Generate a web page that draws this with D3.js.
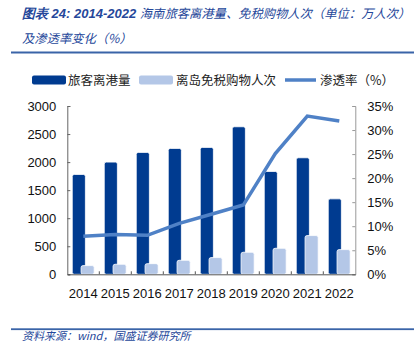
<!DOCTYPE html>
<html><head><meta charset="utf-8">
<script src="https://cdn.jsdelivr.net/npm/d3@7"></script>
<style>
html,body{margin:0;padding:0;background:#fff;}
svg{display:block;}
</style></head>
<body>
<svg id="c" width="416" height="343"></svg>
<script>
const years = ["2014","2015","2016","2017","2018","2019","2020","2021","2022"];
const departures = [1780, 2000, 2173, 2244, 2262, 2630, 1833, 2077, 1345];
const dutyFreeShoppers = [155, 179, 190, 250, 298, 393, 464, 690, 440];
const penetration = [7.9, 8.3, 8.1, 10.6, 12.5, 14.4, 25.1, 32.9, 31.9];
const leftTicks = [0, 500, 1000, 1500, 2000, 2500, 3000];
const rightTicks = [0, 5, 10, 15, 20, 25, 30, 35];
const seriesNames = ["旅客离港量", "离岛免税购物人次", "渗透率（%）"];

(function () {
const svg = d3.select("#c");
const cjk = "'Noto Sans CJK SC','Noto Sans',sans-serif";
const num = "'Liberation Sans',Arial,sans-serif";
const titleColor = "#25479a";
const ruleColor = "#3a64a8";
const dark = "#003b90";
const light = "#b4c7e7";
const lineColor = "#4f81c6";

// Title
const t1 = svg.append("text").attr("x", 22).attr("y", 18).attr("fill", titleColor)
  .attr("font-style", "italic").attr("font-size", 12.3).attr("font-family", cjk);
t1.append("tspan").attr("font-weight", "bold").attr("font-family", num).attr("font-size", 13).text("图表 24: 2014-2022 ");
t1.append("tspan").text("海南旅客离港量、免税购物人次（单位：万人次）");
svg.append("text").attr("x", 22).attr("y", 43).attr("fill", titleColor)
  .attr("font-style", "italic").attr("font-size", 12.3).attr("font-family", cjk)
  .text("及渗透率变化（%）");
svg.append("rect").attr("x", 11).attr("y", 51.5).attr("width", 403).attr("height", 2).attr("fill", ruleColor);

// Footer
svg.append("rect").attr("x", 11).attr("y", 328.3).attr("width", 403).attr("height", 1.8).attr("fill", ruleColor);
svg.append("text").attr("x", 22).attr("y", 340).attr("fill", titleColor)
  .attr("font-style", "italic").attr("font-size", 11).attr("font-family", cjk)
  .text("资料来源：wind，国盛证券研究所");

// Scales
const pLeft = 67.3, pRight = 355.3, pTop = 106, pBottom = 274.3;
const x = d3.scaleBand().domain(years).range([pLeft, pRight]).padding(0);
const yL = d3.scaleLinear().domain([0, 3000]).range([pBottom, pTop]);
const yR = d3.scaleLinear().domain([0, 35]).range([pBottom, pTop]);
const bw = x.bandwidth();
const barW = bw * 0.41;
const darkOff = bw * 0.155;
const lightOff = bw * 0.43;

// Bars
const g = svg.append("g");
g.selectAll("rect.d").data(years).join("rect").attr("class", "d")
  .attr("x", d => x(d) + darkOff).attr("width", barW)
  .attr("y", (d, i) => yL(departures[i])).attr("height", (d, i) => pBottom - yL(departures[i]))
  .attr("rx", 2).attr("fill", dark).attr("stroke", "#fff").attr("stroke-width", 0.8);
g.selectAll("rect.l").data(years).join("rect").attr("class", "l")
  .attr("x", d => x(d) + lightOff).attr("width", barW)
  .attr("y", (d, i) => yL(dutyFreeShoppers[i])).attr("height", (d, i) => pBottom - yL(dutyFreeShoppers[i]))
  .attr("rx", 2).attr("fill", light).attr("stroke", "#fff").attr("stroke-width", 0.8);

// Line
const line = d3.line().x((d, i) => x(years[i]) + bw / 2).y(d => yR(d));
svg.append("path").datum(penetration).attr("d", line).attr("fill", "none")
  .attr("stroke", lineColor).attr("stroke-width", 3.5).attr("stroke-linejoin", "miter");

// Axes
const axL = svg.append("g").attr("transform", `translate(${pLeft},0)`)
  .call(d3.axisLeft(yL).tickValues(leftTicks).tickFormat(d3.format("d")).tickSizeInner(-3).tickSizeOuter(-3).tickPadding(11));
axL.select(".domain").attr("stroke", "#666");
axL.selectAll(".tick line").attr("stroke", "#666");
axL.selectAll("text").attr("font-family", num).attr("font-size", 13).attr("fill", "#111");

const axR = svg.append("g").attr("transform", `translate(${pRight},0)`)
  .call(d3.axisRight(yR).tickValues(rightTicks).tickFormat(d => d + "%").tickSizeInner(-3).tickSizeOuter(-3).tickPadding(12));
axR.select(".domain").attr("stroke", "#999");
axR.selectAll(".tick line").attr("stroke", "#999");
axR.selectAll("text").attr("font-family", num).attr("font-size", 13).attr("fill", "#111");

const axB = svg.append("g").attr("transform", `translate(0,${pBottom})`)
  .call(d3.axisBottom(x).tickSize(0).tickPadding(14));
axB.select(".domain").attr("stroke", "#555");
axB.selectAll("text").attr("font-family", num).attr("font-size", 13).attr("fill", "#111");
// category boundary ticks (inward)
svg.append("g").selectAll("line").data(years.slice(1)).join("line")
  .attr("x1", d => x(d)).attr("x2", d => x(d)).attr("y1", pBottom - 3).attr("y2", pBottom)
  .attr("stroke", "#555");

// Legend
const lg = svg.append("g").attr("font-family", cjk).attr("font-size", 12.5).attr("fill", "#222");
const ly = 80;
const legendItems = [
  {name: seriesNames[0], type: "rect", color: dark, x: 32, w: 34, tx: 68},
  {name: seriesNames[1], type: "rect", color: light, x: 139, w: 34, tx: 176},
  {name: seriesNames[2], type: "line", color: lineColor, x: 285, w: 31, tx: 320}
];
legendItems.forEach(it => {
  if (it.type === "rect") {
    lg.append("rect").attr("x", it.x).attr("y", ly - 4.5).attr("width", it.w).attr("height", 9)
      .attr("rx", 2).attr("fill", it.color);
  } else {
    lg.append("line").attr("x1", it.x).attr("x2", it.x + it.w).attr("y1", ly).attr("y2", ly)
      .attr("stroke", it.color).attr("stroke-width", 3.5);
  }
  lg.append("text").attr("x", it.tx).attr("y", ly).attr("dy", "0.36em").text(it.name);
});
})();
</script>
</body></html>
